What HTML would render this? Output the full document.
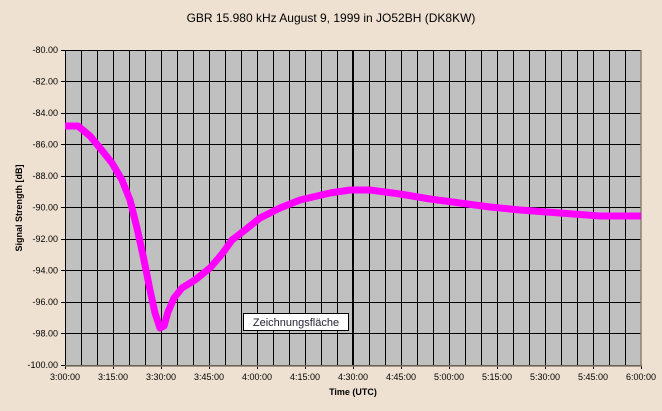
<!DOCTYPE html><html><head><style>body{margin:0;background:#efe1d1;}svg{display:block}</style></head><body>
<svg width="662" height="411" xmlns="http://www.w3.org/2000/svg" font-family="Liberation Sans, sans-serif">
<rect width="662" height="411" fill="#efe1d1"/>
<text x="331" y="22" text-anchor="middle" font-size="12">GBR 15.980 kHz August 9, 1999 in JO52BH (DK8KW)</text>
<rect x="65" y="50" width="576" height="315" fill="#c0c0c0"/>
<path fill="none" stroke="#000" stroke-width="1" d="M81.5 50V365M97.5 50V365M113.5 50V365M129.5 50V365M145.5 50V365M161.5 50V365M177.5 50V365M193.5 50V365M209.5 50V365M225.5 50V365M241.5 50V365M257.5 50V365M273.5 50V365M289.5 50V365M305.5 50V365M321.5 50V365M337.5 50V365M369.5 50V365M385.5 50V365M401.5 50V365M417.5 50V365M433.5 50V365M449.5 50V365M465.5 50V365M481.5 50V365M497.5 50V365M513.5 50V365M529.5 50V365M545.5 50V365M561.5 50V365M577.5 50V365M593.5 50V365M609.5 50V365M625.5 50V365
M61 50.5H641M61 81.5H641M61 113.5H641M61 144.5H641M61 176.5H641M61 207.5H641M61 239.5H641M61 270.5H641M61 302.5H641M61 333.5H641M61 365.5H641
M65.5 365V369M113.5 365V369M161.5 365V369M209.5 365V369M257.5 365V369M305.5 365V369M353.5 365V369M401.5 365V369M449.5 365V369M497.5 365V369M545.5 365V369M593.5 365V369M641.5 365V369M65.5 50V365"/>
<path d="M641 50V366H65" fill="none" stroke="#8a8070" stroke-width="1.5"/>
<line x1="353" y1="50" x2="353" y2="365" stroke="#000" stroke-width="2"/>
<polyline fill="none" stroke="#ff00ff" stroke-width="7" stroke-linejoin="round" points="65,126 78,126 90,136 100,148 112,163 122,180 130,200 137,228 144,260 150,290 155,313 160,328 164,326 168,312 174,298 182,288 195,280 210,268 222,254 232,240 245,230 260,218 280,208 300,200 330,193 350,190 370,190 400,194 430,199 460,203 490,207 520,210 560,213 600,216 641,216"/>
<rect x="243.5" y="313.5" width="105" height="17" fill="#fff" stroke="#000" stroke-width="1"/>
<text x="296" y="326" text-anchor="middle" font-size="11" fill="#223">Zeichnungsfläche</text>
<text transform="translate(22,208) rotate(-90)" text-anchor="middle" font-size="9" font-weight="bold">Signal Strength [dB]</text>
<text x="353" y="395" text-anchor="middle" font-size="9" font-weight="bold">Time (UTC)</text>
<g font-size="9" text-anchor="end">
<text x="58" y="53">-80.00</text><text x="58" y="84.5">-82.00</text><text x="58" y="116">-84.00</text><text x="58" y="147.5">-86.00</text><text x="58" y="179">-88.00</text><text x="58" y="210.5">-90.00</text><text x="58" y="242">-92.00</text><text x="58" y="273.5">-94.00</text><text x="58" y="305">-96.00</text><text x="58" y="336.5">-98.00</text><text x="58" y="368">-100.00</text>
</g>
<g font-size="9" text-anchor="middle">
<text x="65" y="380">3:00:00</text><text x="113" y="380">3:15:00</text><text x="161" y="380">3:30:00</text><text x="209" y="380">3:45:00</text><text x="257" y="380">4:00:00</text><text x="305" y="380">4:15:00</text><text x="353" y="380">4:30:00</text><text x="401" y="380">4:45:00</text><text x="449" y="380">5:00:00</text><text x="497" y="380">5:15:00</text><text x="545" y="380">5:30:00</text><text x="593" y="380">5:45:00</text><text x="641" y="380">6:00:00</text>
</g>
</svg></body></html>
